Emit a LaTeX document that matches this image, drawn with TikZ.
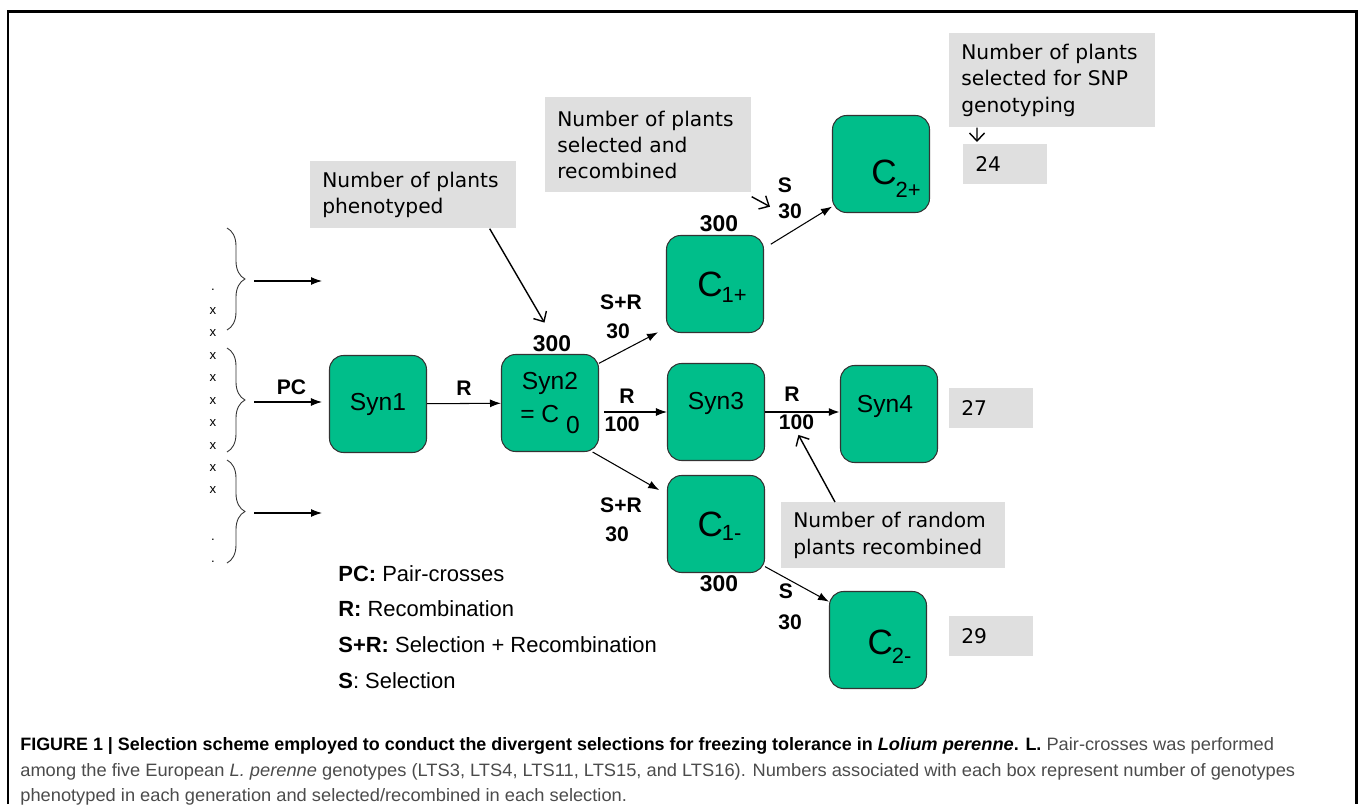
\documentclass[tikz,border=0pt]{standalone}
\usepackage{fontspec}
\setmainfont{Liberation Sans}
\newfontfamily\notefont{DejaVu Sans}
\newfontfamily\capfont[FakeStretch=1.02,BoldFeatures={FakeStretch=1.0}]{Liberation Sans}
\usetikzlibrary{arrows.meta,decorations.pathreplacing}

\definecolor{genfill}{RGB}{0,190,138}
\definecolor{notefill}{RGB}{223,223,223}
\definecolor{captext}{RGB}{75,75,75}

% C with a lowered subscript, as in the boxes
\newcommand{\csub}[2]{{\fontsize{20}{20}\selectfont C}\kern-0.02cm\raisebox{-#2}{\fontsize{12.5}{12.5}\selectfont #1}}

\begin{document}
\begin{tikzpicture}[
  x=0.02cm, y=-0.02cm,
  every node/.style={inner sep=0pt},
  gen/.style={draw=black!80,line width=0.6pt,rounded corners=0.28cm,fill=genfill,
    minimum width=1.94cm,minimum height=1.94cm,align=center,
    font=\fontsize{14}{18.7}\selectfont},
  genlabel/.style={font=\fontsize{14}{18.7}\selectfont},
  note/.style={fill=notefill,anchor=north west,inner xsep=0.24cm,align=left,
    font=\notefont\fontsize{11.5}{15}\selectfont},
  num/.style={font=\bfseries\fontsize{12}{14}\selectfont},
  bignum/.style={font=\bfseries\fontsize{13}{15}\selectfont},
  xmark/.style={font=\fontsize{7.5}{7.5}\selectfont},
  legend/.style={anchor=west,font=\fontsize{12.5}{14}\selectfont},
  caption/.style={anchor=west,font=\capfont\fontsize{10.2}{12}\selectfont},
  brace/.style={decorate,decoration={brace,amplitude=0.36cm},line width=0.5pt,black!80},
  tofill/.style={->,>={Latex[length=2.2mm,width=1.6mm]},line width=0.6pt},
  tothick/.style={tofill,line width=1.4pt},
  tonote/.style={->,>={Straight Barb[length=1.6mm,width=3mm]},line width=0.8pt}]

  \useasboundingbox (0,0) rectangle (1358,804);
  % outer frame, open at the bottom
  \draw[line width=0.06cm] (8,804) -- (8,12) -- (1356,12) -- (1356,804);

  % parent genotypes and pair-crosses
  \foreach \y in {311,333,356,378,401,423,446,468,490}
    \node[xmark] (xm\y) at (213,\y) {x};
  \foreach \y in {290,540,562}
    \node[xmark] (dot\y) at (213,\y) {.};
  \draw[brace] (227,228) -- (227,330);
  \draw[brace] (227,348) -- (227,452);
  \draw[brace] (227,460) -- (227,563);
  \coordinate (tip1) at (254,281);
  \coordinate (end1) at (322,281);
  \coordinate (tip2) at (254,402);
  \coordinate (tip3) at (254,513);
  \coordinate (end3) at (322,513);

  % generations
  \node[gen] (Syn1) at (378,404) {Syn1};
  \node[gen] (Syn2) at (550,403) {Syn2\\= C \raisebox{-0.22cm}{0}};
  \node[gen,label={[genlabel,yshift=0.18cm]center:Syn3}] (Syn3) at (716,412) {};
  \node[gen,label={[genlabel,xshift=-0.08cm,yshift=0.16cm]center:Syn4}] (Syn4) at (889,414) {};
  \node[gen,label={[xshift=0.14cm,yshift=-0.07cm]center:\csub{1+}{0.12cm}}] (C1p) at (715,284) {};
  \node[gen,label={[xshift=0.07cm,yshift=-0.04cm]center:\csub{1-}{0.08cm}}] (C1m) at (716,524) {};
  \node[gen,label={[xshift=0.3cm,yshift=-0.29cm]center:\csub{2+}{0.26cm}}] (C2p) at (881,164) {};
  \node[gen,label={[xshift=0.23cm,yshift=-0.14cm]center:\csub{2-}{0.18cm}}] (C2m) at (878,640) {};

  % numbers of plants
  \node[bignum] (n300a) at (552,344) {300};
  \node[bignum] (n300b) at (719,224) {300};
  \node[bignum] (n300c) at (719,584) {300};
  \node[num] (lblSR1) at (621,302) {S+R};
  \node[num] (lbl30a) at (618,331) {30};
  \node[num] (lblSR2) at (621,505) {S+R};
  \node[num] (lbl30b) at (617,534) {30};
  \node[num] (lblS1) at (785,185) {S};
  \node[num] (lbl30c) at (790,211) {30};
  \node[num] (lblS2) at (786,591) {S};
  \node[num] (lbl30d) at (790,622) {30};

  % grey notes
  \node[note,text width=3.64cm,minimum height=1.34cm] (notepheno) at (310,161)
    {Number of plants\\phenotyped};
  \node[note,text width=3.64cm,minimum height=1.9cm] (noteselrec) at (545,97)
    {Number of plants\\selected and\\recombined};
  \node[note,text width=3.64cm,minimum height=1.88cm] (notesnp) at (949,33)
    {Number of plants\\selected for SNP\\genotyping};
  \node[note,text width=4.0cm,minimum height=1.32cm] (noterand) at (781,502)
    {Number of random\\plants recombined};
  \node[note,text width=1.2cm,minimum height=0.8cm] (n24) at (963,144) {24};
  \node[note,text width=1.2cm,minimum height=0.8cm] (n27) at (949,388) {27};
  \node[note,text width=1.2cm,minimum height=0.8cm] (n29) at (949,616) {29};

  % legend
  \node[legend] (legPC) at (338,574) {\textbf{PC:} Pair-crosses};
  \node[legend] (legR) at (338,609) {\textbf{R:} Recombination};
  \node[legend] (legSR) at (338,645) {\textbf{S+R:} Selection + Recombination};
  \node[legend] (legS) at (338,681) {\textbf{S}: Selection};

  % caption
  \node[caption] (cap1) at (20,746) {\textbf{FIGURE 1 | Selection scheme employed to conduct the divergent selections for freezing tolerance in \textit{Lolium perenne}. L.} \textcolor{captext}{Pair-crosses was performed}};
  \node[caption,text=captext] (cap2) at (20,772) {among the five European \textit{L. perenne} genotypes (LTS3, LTS4, LTS11, LTS15, and LTS16). Numbers associated with each box represent number of genotypes};
  \node[caption,text=captext] (cap3) at (20,797) {phenotyped in each generation and selected/recombined in each selection.};

  % arrows of the scheme
  \draw[tofill] (tip1) -- (end1);
  \draw[tofill] (tip3) -- (end3);
  \draw[tofill,shorten >=0.14cm] (tip2) --
      node[num,above=0.14cm] (lblPC) {PC}
      (tip2 -| Syn1.west);
  \draw[tofill] (Syn1) --
      node[num,above=0.14cm] (lblR1) {R}
      (Syn2);
  \draw[tofill,shorten <=0.1cm] (Syn2.east |- Syn3.west) --
      node[pos=0.41,num,above=0.16cm] (lblR2) {R}
      node[pos=0.34,num,below=0.08cm] (lbl100a) {100}
      (Syn3.west);
  \draw[tothick] (Syn3.east) --
      node[pos=0.36,num,above=0.18cm] (lblR3) {R}
      node[pos=0.42,num,below=0.04cm] (lbl100b) {100}
      (Syn3.east -| Syn4.west);
  \draw[tofill,shorten >=0.18cm] (Syn2.39) -- (C1p.222);
  \draw[tofill,shorten >=0.18cm] (Syn2.-49) -- (C1m.149);
  \draw[tofill,shorten <=0.16cm] (C1p.36) -- (C2p.221);
  \draw[tofill] (C1m.-41) -- (C2m.142);

  % arrows from the notes
  \draw[tonote,shorten >=0.3cm] ([xshift=-0.54cm]notepheno.south east) -- (n300a.north);
  \draw[tonote,shorten >=0.18cm] ([yshift=-0.08cm]noteselrec.south east) -- (lbl30c.west);
  \draw[tonote,shorten >=0.04cm] ([xshift=0.56cm]notesnp.south west) -- ([xshift=0.28cm]n24.north west);
  \draw[tonote,shorten >=0.08cm] ([xshift=1.08cm]noterand.north west) -- (lbl100b.south);
\end{tikzpicture}
\end{document}
